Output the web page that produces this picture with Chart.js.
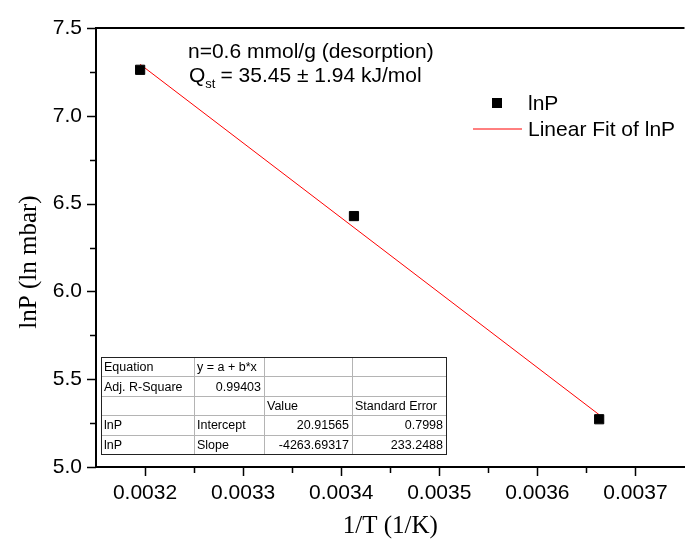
<!DOCTYPE html>
<html>
<head>
<meta charset="utf-8">
<script src="https://cdn.jsdelivr.net/npm/chart.js@4/dist/chart.umd.min.js"></script>
<style>
  html, body { margin: 0; padding: 0; background: #fff; }
  #wrap { width: 692px; height: 545px; position: relative; }
</style>
</head>
<body>
<div id="wrap"><canvas id="vantHoff"></canvas></div>
<script>
// measured points: 1/T (1/K) against lnP (ln mbar)
const invT = [0.003195, 0.003413, 0.003663];
const lnP = [7.262, 6.429, 5.272];

// linear fit results
const fitIntercept = 20.91565;
const fitSlope = -4263.69317;
const interceptErr = 0.7998;
const slopeErr = 233.2488;
const adjR2 = 0.99403;

// axis ticks
const xTicks = [0.0032, 0.0033, 0.0034, 0.0035, 0.0036, 0.0037];
const yTicks = [5.0, 5.5, 6.0, 6.5, 7.0, 7.5];

const noteLine1 = 'n=0.6 mmol/g (desorption)';
const qstValue = '= 35.45 \u00b1 1.94 kJ/mol';

const tableRows = [
    ['Equation', 'y = a + b*x', '', ''],
    ['Adj. R-Square', String(adjR2), '', ''],
    ['', '', 'Value', 'Standard Error'],
    ['lnP', 'Intercept', String(fitIntercept), String(interceptErr)],
    ['lnP', 'Slope', String(fitSlope), String(slopeErr)]
];

const SANS = '"Liberation Sans", Arial, sans-serif';
const SERIF = '"Liberation Serif", "Times New Roman", serif';

// fit line spans the measured range
const fitLine = [invT[0], invT[invT.length - 1]].map(v => ({ x: v, y: fitIntercept + fitSlope * v }));

function drawTicks(ctx, area, x, y) {
    ctx.strokeStyle = '#000';
    ctx.lineWidth = 1.5;
    ctx.beginPath();
    xTicks.forEach((v, i) => {
        const px = Math.round(x.getPixelForValue(v)) + 0.5;
        ctx.moveTo(px, area.bottom);
        ctx.lineTo(px, area.bottom + 9);
        if (i < xTicks.length - 1) {
            const mx = Math.round(x.getPixelForValue((v + xTicks[i + 1]) / 2)) + 0.5;
            ctx.moveTo(mx, area.bottom);
            ctx.lineTo(mx, area.bottom + 6);
        }
    });
    yTicks.forEach((v, i) => {
        const py = Math.round(y.getPixelForValue(v)) + 0.5;
        ctx.moveTo(area.left, py);
        ctx.lineTo(area.left - 9, py);
        if (i < yTicks.length - 1) {
            const my = Math.round(y.getPixelForValue((v + yTicks[i + 1]) / 2)) + 0.5;
            ctx.moveTo(area.left, my);
            ctx.lineTo(area.left - 6, my);
        }
    });
    ctx.stroke();
}

function drawLegend(ctx, datasets) {
    const textX = 528;
    ctx.font = '21px ' + SANS;
    ctx.fillStyle = '#000';
    ctx.textAlign = 'left';
    ctx.textBaseline = 'middle';

    // scatter entry
    ctx.fillStyle = datasets[0].backgroundColor;
    ctx.fillRect(492, 98, 10, 10);
    ctx.fillStyle = '#000';
    ctx.fillText(datasets[0].label, textX, 104);

    // fit line entry
    ctx.strokeStyle = datasets[1].borderColor;
    ctx.lineWidth = 1;
    ctx.beginPath();
    ctx.moveTo(473, 129);
    ctx.lineTo(522, 129);
    ctx.stroke();
    ctx.fillText(datasets[1].label, textX, 130);
}

function drawNote(ctx) {
    ctx.fillStyle = '#000';
    ctx.textAlign = 'left';
    ctx.textBaseline = 'alphabetic';
    ctx.font = '21px ' + SANS;
    ctx.fillText(noteLine1, 188, 58);

    let px = 189;
    ctx.fillText('Q', px, 82);
    px += ctx.measureText('Q').width;
    ctx.font = '13px ' + SANS;
    ctx.fillText('st', px, 88);
    px += ctx.measureText('st').width + 5;
    ctx.font = '21px ' + SANS;
    ctx.fillText(qstValue, px, 82);
}

function drawFitTable(ctx) {
    const cols = [101, 194, 264, 352, 446];
    const top = 357, rowH = 19.4;
    const bottom = top + rowH * tableRows.length;

    ctx.fillStyle = '#fff';
    ctx.fillRect(cols[0], top, cols[4] - cols[0], bottom - top);

    // inner grid
    ctx.strokeStyle = '#b4b4b4';
    ctx.lineWidth = 1;
    ctx.beginPath();
    for (let r = 1; r < tableRows.length; r++) {
        const yy = Math.round(top + r * rowH) + 0.5;
        ctx.moveTo(cols[0], yy);
        ctx.lineTo(cols[4], yy);
    }
    for (let c = 1; c < cols.length - 1; c++) {
        ctx.moveTo(cols[c] + 0.5, top);
        ctx.lineTo(cols[c] + 0.5, bottom);
    }
    ctx.stroke();

    // outer border
    ctx.strokeStyle = '#222';
    ctx.strokeRect(cols[0] + 0.5, top + 0.5, cols[4] - cols[0], Math.round(bottom - top));

    ctx.font = '12.5px ' + SANS;
    ctx.fillStyle = '#000';
    ctx.textBaseline = 'middle';
    tableRows.forEach((row, r) => {
        const cy = top + r * rowH + rowH / 2 + 1;
        row.forEach((txt, c) => {
            if (!txt) return;
            if (/^-?[\d.]+$/.test(txt)) {
                ctx.textAlign = 'right';
                ctx.fillText(txt, cols[c + 1] - 3, cy);
            } else {
                ctx.textAlign = 'left';
                ctx.fillText(txt, cols[c] + 3, cy);
            }
        });
    });
}

function drawAxisTitles(ctx, area) {
    ctx.fillStyle = '#000';
    ctx.font = '25px ' + SERIF;
    ctx.textAlign = 'center';
    ctx.textBaseline = 'alphabetic';
    ctx.fillText('1/T (1/K)', (area.left + area.right) / 2, 533);

    ctx.save();
    ctx.translate(36, 262);
    ctx.rotate(-Math.PI / 2);
    ctx.fillText('lnP (ln mbar)', 0, 0);
    ctx.restore();
}

const decorations = {
    id: 'decorations',
    afterDraw(chart) {
        const { ctx, chartArea: area, scales: { x, y } } = chart;
        ctx.save();
        // top frame line
        ctx.strokeStyle = '#000';
        ctx.lineWidth = 2;
        ctx.beginPath();
        ctx.moveTo(area.left - 1, area.top);
        ctx.lineTo(area.right, area.top);
        ctx.stroke();

        drawTicks(ctx, area, x, y);
        drawNote(ctx);
        drawLegend(ctx, chart.data.datasets);
        drawFitTable(ctx);
        drawAxisTitles(ctx, area);
        ctx.restore();
    }
};

const ctx = document.getElementById('vantHoff').getContext('2d');
new Chart(ctx, {
    type: 'scatter',
    data: {
        datasets: [{
            label: 'lnP',
            data: invT.map((v, i) => ({ x: v, y: lnP[i] })),
            pointStyle: 'rect',
            pointRadius: 6.5,
            pointHoverRadius: 6.5,
            backgroundColor: '#000',
            borderColor: '#000',
            borderWidth: 1,
            order: 1
        }, {
            label: 'Linear Fit of lnP',
            data: fitLine,
            showLine: true,
            borderColor: '#ff0000',
            borderWidth: 1,
            pointRadius: 0,
            pointHoverRadius: 0,
            order: 2
        }]
    },
    options: {
        responsive: true,
        maintainAspectRatio: false,
        animation: false,
        layout: { padding: { top: 28, left: 0, right: 0, bottom: 0 } },
        plugins: {
            legend: { display: false },
            tooltip: { enabled: false }
        },
        scales: {
            x: {
                type: 'linear',
                min: 0.00315,
                max: 0.00375,
                afterBuildTicks: scale => { scale.ticks = xTicks.map(v => ({ value: v })); },
                afterFit: scale => { scale.height = 78; },
                grid: { display: false, drawTicks: false },
                border: { display: true, color: '#000', width: 2 },
                ticks: {
                    padding: 14,
                    color: '#000',
                    font: { family: SANS, size: 21 },
                    maxRotation: 0,
                    callback: v => v.toFixed(4)
                }
            },
            y: {
                min: 5.0,
                max: 7.5,
                afterBuildTicks: scale => { scale.ticks = yTicks.map(v => ({ value: v })); },
                afterFit: scale => { scale.width = 96; },
                grid: { display: false, drawTicks: false },
                border: { display: true, color: '#000', width: 2 },
                ticks: {
                    padding: 14,
                    color: '#000',
                    font: { family: SANS, size: 21 },
                    callback: v => v.toFixed(1)
                }
            }
        }
    },
    plugins: [decorations]
});
</script>
</body>
</html>
